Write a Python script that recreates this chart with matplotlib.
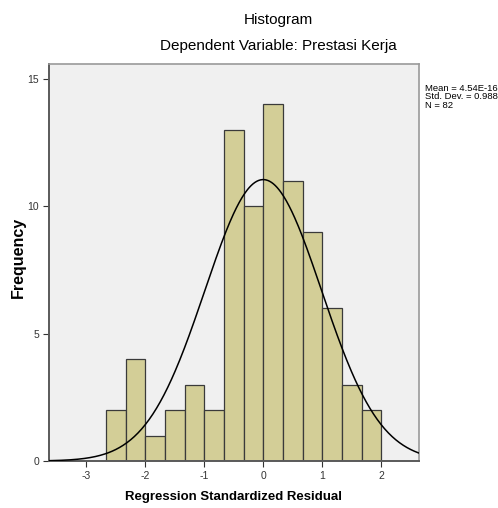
import numpy as np
import matplotlib.pyplot as plt

plt.rcParams["font.family"] = ["Liberation Sans", "DejaVu Sans"]
plt.rcParams["axes.unicode_minus"] = False

# histogram of regression standardized residuals (bin width 1/3)
bin_edges = [-8/3, -7/3, -2, -5/3, -4/3, -1, -2/3, -1/3, 0, 1/3, 2/3, 1, 4/3, 5/3, 2]
counts = [2, 4, 1, 2, 3, 2, 13, 10, 14, 11, 9, 6, 3, 2]
mean, std, n = 4.54e-16, 0.988, 82
x_ticks = [-3, -2, -1, 0, 1, 2]
y_ticks = [0, 5, 10, 15]

fig = plt.figure(figsize=(4.98, 5.08), dpi=100)
ax = fig.add_axes([49/498, 1 - 461/508, 370/498, 397/508])
ax.set_facecolor("#f0f0f0")

lefts = np.array(bin_edges[:-1])
widths = np.diff(bin_edges)
ax.bar(lefts, counts, width=widths, align="edge", color="#d3ce97",
       edgecolor="#3a3a3a", linewidth=0.9, zorder=2)

# fitted normal curve scaled to counts
bw = widths[0]
xs = np.linspace(-3.63, 2.64, 400)
ys = n * bw * np.exp(-0.5 * ((xs - mean) / std) ** 2) / (std * np.sqrt(2 * np.pi))
ax.plot(xs, ys, color="black", lw=1.1, zorder=3)

ax.set_xlim(-3.63, 2.64)
ax.set_ylim(0, 15.57)
ax.set_xticks(x_ticks)
ax.set_yticks(y_ticks)
ax.tick_params(labelsize=7.5, colors="#333333", length=4, width=0.8, pad=3)
for s in ["top", "right"]:
    ax.spines[s].set_color("#9a9a9a")
    ax.spines[s].set_linewidth(1.2)
for s in ["left", "bottom"]:
    ax.spines[s].set_color("#5a5a5a")
    ax.spines[s].set_linewidth(1.4)

fig.text(233/498, 1 - 497/508, "Regression Standardized Residual", ha="center",
         va="center", fontsize=9.5, fontweight="bold")
fig.text(18/498, 1 - 257/508, "Frequency", ha="center", va="center",
         rotation=90, fontsize=11.5, fontweight="bold")

fig.text(278/498, 1 - 20/508, "Histogram", ha="center", va="center", fontsize=11)
fig.text(278/498, 1 - 46/508, "Dependent Variable: Prestasi Kerja", ha="center",
         va="center", fontsize=11)

fig.text(425/498, 1 - 84/508,
         f"Mean = 4.54E-16\nStd. Dev. = {std}\nN = {n}",
         ha="left", va="top", fontsize=6.8, linespacing=0.9)

fig.savefig("out.png", dpi=100)
